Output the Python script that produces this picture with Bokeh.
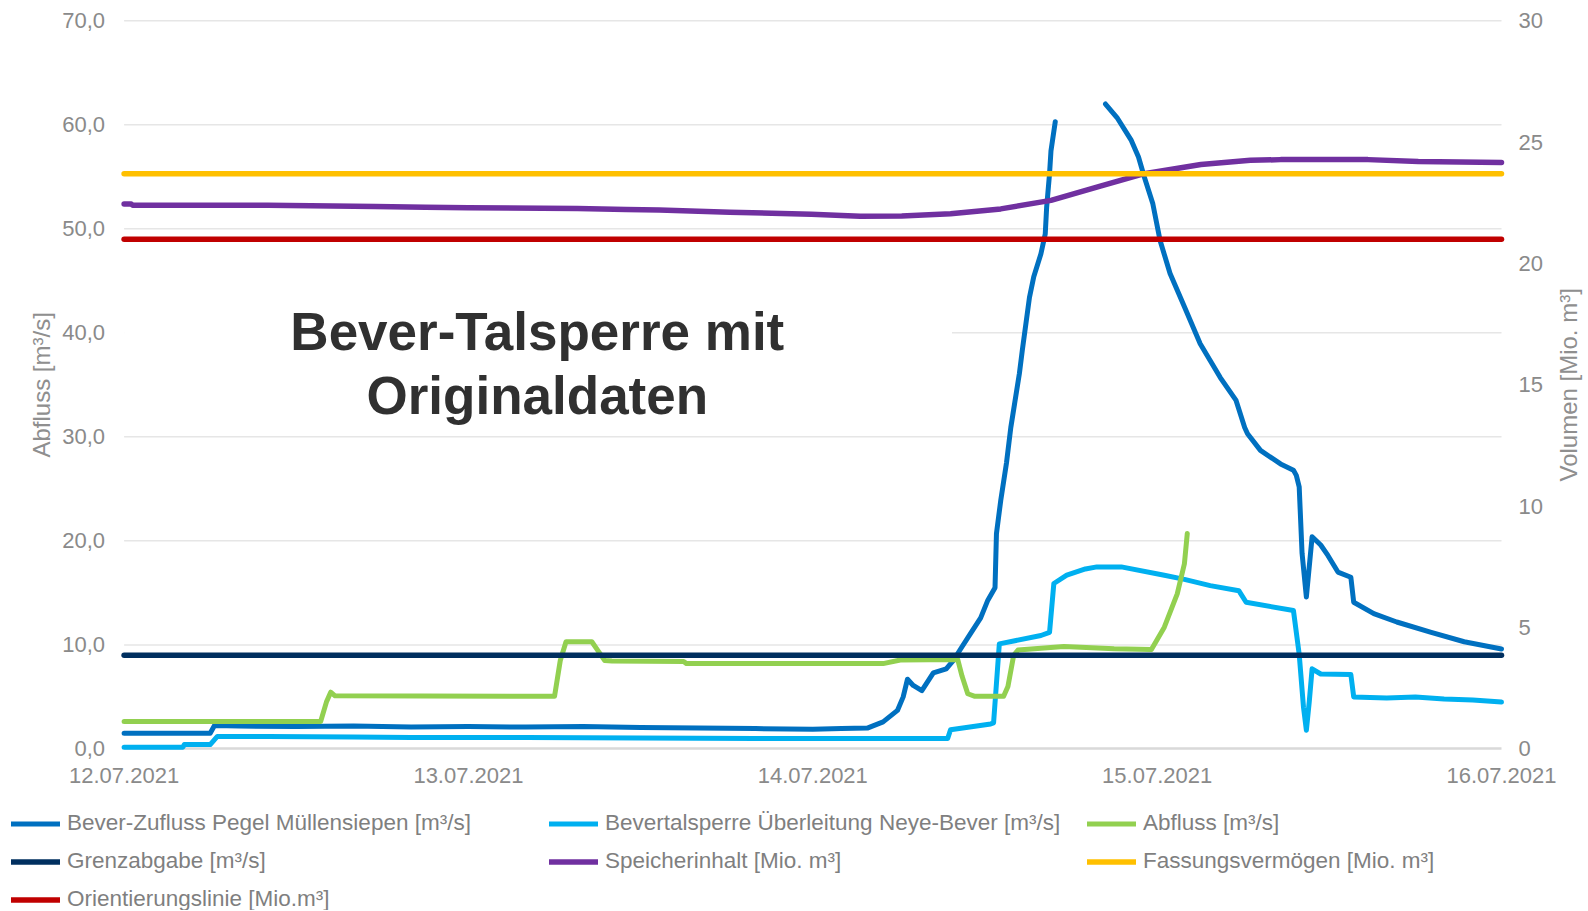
import pandas as pd
from bokeh.plotting import figure
from bokeh.models import (Range1d, LinearAxis, FixedTicker, CustomJSTickFormatter,
                          DatetimeTickFormatter, Legend, LegendItem, BoxAnnotation,
                          Label, ColumnDataSource)
from bokeh.embed import file_html
from bokeh.resources import INLINE

nan = float("nan")

# ---------------- data (hours after 12.07.2021 00:00) ----------------
START = "2021-07-12 00:00"
END = "2021-07-16 00:00"
x_tick_dates = ["2021-07-12", "2021-07-13", "2021-07-14", "2021-07-15", "2021-07-16"]
left_ticks = [0, 10, 20, 30, 40, 50, 60, 70]
right_ticks = [0, 5, 10, 15, 20, 25, 30]

zufluss_h = [0, 6.0, 6.3, 8, 12, 16, 20, 24, 28, 32, 36, 40, 44, 48, 50, 51.8, 52.9, 53.9,
             54.3, 54.6, 55.0, 55.6, 56.4, 57.3, 57.8, 58.3, 59.0, 59.7, 60.2, 60.7, 60.8,
             61.1, 61.5, 61.8, 62.4, 62.6, 63.1, 63.4, 63.9, 64.2, 64.3, 64.5, 64.6, 64.9,
             66.6, 68.4, 69.2, 70.2, 70.7, 71.1, 71.7, 72.2, 72.9, 73.9, 75.0, 76.4, 77.5,
             78.1, 78.3, 79.2, 80.6, 81.5, 81.7, 81.9, 82.1, 82.4, 82.8, 83.4, 83.9, 84.6,
             85.5, 85.7, 87.1, 88.7, 91.1, 93.4, 96.0]
zufluss_v = [1.5, 1.5, 2.25, 2.2, 2.15, 2.2, 2.1, 2.15, 2.1, 2.15, 2.05, 2.0, 1.95, 1.9, 1.95,
             2.0, 2.6, 3.7, 5.0, 6.7, 6.1, 5.6, 7.3, 7.7, 8.5, 9.6, 11.1, 12.6, 14.3, 15.5,
             20.7, 23.9, 27.5, 30.9, 36.1, 38.3, 43.4, 45.4, 47.6, 49.5, 52.1, 55.3, 57.5,
             60.3, nan, 62.0, 60.7, 58.5, 56.9, 55.0, 52.4, 48.9, 45.7, 42.5, 38.95, 35.7,
             33.5, 30.9, 30.3, 28.7, 27.4, 26.8, 26.3, 25.2, 18.8, 14.6, 20.4, 19.6, 18.6,
             17.0, 16.5, 14.1, 13.0, 12.2, 11.2, 10.3, 9.6]

ueberl_h = [0, 4.1, 4.2, 6.0, 6.5, 10, 16, 20, 28, 36, 44, 52, 57.4, 57.6, 60.4, 60.6, 61.0,
            63.9, 64.5, 64.8, 65.7, 67.0, 67.8, 69.5, 72.5, 73.9, 75.7, 77.7, 78.2, 81.5,
            81.9, 82.2, 82.4, 82.6, 82.8, 83.4, 85.5, 85.7, 88, 90, 92, 94, 96]
ueberl_v = [0.17, 0.17, 0.42, 0.42, 1.2, 1.2, 1.15, 1.1, 1.1, 1.05, 1.0, 1.0, 1.0, 1.85, 2.4,
            2.5, 10.1, 10.9, 11.2, 15.9, 16.7, 17.3, 17.5, 17.5, 16.7, 16.3, 15.7, 15.2, 14.1,
            13.3, 9.1, 4.0, 1.8, 4.5, 7.7, 7.2, 7.15, 5.0, 4.9, 5.0, 4.8, 4.7, 4.5]

abfluss_h = [0, 13.7, 14.1, 14.4, 14.7, 30.0, 30.4, 30.8, 32.6, 33.0, 33.5, 34, 39, 39.2,
             52.9, 54.1, 58.1, 58.4, 58.8, 59.3, 61.3, 61.6, 62.0, 62.3, 65.5, 69.0, 71.6,
             72.5, 73.4, 73.9, 74.1]
abfluss_v = [2.63, 2.63, 4.5, 5.45, 5.1, 5.05, 8.5, 10.3, 10.3, 9.5, 8.5, 8.45, 8.4, 8.2,
             8.2, 8.55, 8.6, 7.0, 5.3, 5.05, 5.05, 6.0, 9.0, 9.5, 9.85, 9.62, 9.55, 11.7,
             14.9, 17.8, 20.7]

speicher_h = [0, 0.5, 0.6, 10, 17.5, 21, 24, 31.6, 35, 37.3, 42.2, 47.9, 51.3, 54.2, 57.6,
              61.1, 64.6, 68.1, 71.1, 75.05, 78.5, 80.6, 86.7, 90.2, 96]
speicher_v = [22.45, 22.45, 22.4, 22.4, 22.35, 22.32, 22.3, 22.27, 22.22, 22.2, 22.11, 22.03,
              21.95, 21.96, 22.05, 22.25, 22.6, 23.2, 23.7, 24.08, 24.25, 24.28, 24.28, 24.2,
              24.16]

grenzabgabe = 9.0          # m³/s
fassungsvermoegen = 23.7   # Mio. m³
orientierungslinie = 21.0  # Mio. m³

labels = {
    "zufluss": "Bever-Zufluss Pegel Müllensiepen [m³/s]",
    "ueberl": "Bevertalsperre Überleitung Neye-Bever [m³/s]",
    "abfluss": "Abfluss [m³/s]",
    "grenz": "Grenzabgabe [m³/s]",
    "speicher": "Speicherinhalt [Mio. m³]",
    "fassung": "Fassungsvermögen [Mio. m³]",
    "orient": "Orientierungslinie [Mio.m³]",
}
colors = {
    "zufluss": "#0070C0", "ueberl": "#00B0F0", "abfluss": "#92D050", "grenz": "#002F5F",
    "speicher": "#7030A0", "fassung": "#FFC000", "orient": "#C00000",
}
legend_order = ["zufluss", "ueberl", "abfluss", "grenz", "speicher", "fassung", "orient"]
title_left = "Abfluss [m³/s]"
title_right = "Volumen [Mio. m³]"
chart_title = ["Bever-Talsperre mit", "Originaldaten"]

# ---------------- layout (pixels) ----------------
W, H = 1586, 910
PLOT_L, PLOT_R, PLOT_T, PLOT_B = 123.6, 1501.0, 20.3, 748.4
LEFT_MAX, RIGHT_MAX = 70.0, 30.0

t0 = pd.Timestamp(START)
t1 = pd.Timestamp(END)
px_per_hour = (PLOT_R - PLOT_L) / ((t1 - t0) / pd.Timedelta(hours=1))
px_per_unit = (PLOT_B - PLOT_T) / LEFT_MAX


def to_dt(hours):
    return t0 + pd.to_timedelta(hours, unit="h")


def ms(ts):
    return pd.Timestamp(ts).value / 1e6


def px_to_hour(px):
    return (px - PLOT_L) / px_per_hour


x_start = ms(to_dt(px_to_hour(0)))
x_end = ms(to_dt(px_to_hour(W)))
y_top = LEFT_MAX + PLOT_T / px_per_unit
y_bot = -(H - PLOT_B) / px_per_unit
k = RIGHT_MAX / LEFT_MAX

FONT = "Liberation Sans"
TICK_COLOR = "#8a8a8a"
TITLE_GREY = "#8f8f8f"

p = figure(width=W, height=H, x_axis_type="datetime",
           x_range=Range1d(x_start, x_end), y_range=Range1d(y_bot, y_top),
           output_backend="svg", toolbar_location=None, title=None,
           min_border_left=0, min_border_right=0, min_border_top=0, min_border_bottom=0)
p.extra_y_ranges = {"vol": Range1d(y_bot * k, y_top * k)}
p.outline_line_color = None
p.background_fill_color = "white"
p.border_fill_color = "white"
p.xgrid.visible = False
p.ygrid.visible = False

# horizontal grid lines spanning the date range
p.multi_line(xs=[[ms(t0), ms(t1)] for _ in left_ticks[1:]],
             ys=[[t, t] for t in left_ticks[1:]], line_color="#e6e6e6", line_width=1.5)

# x axis, fixed at y = 0
xa = p.xaxis[0]
xa.fixed_location = 0
xa.bounds = (ms(t0), ms(t1))
xa.ticker = FixedTicker(ticks=[ms(d) for d in x_tick_dates])
fmt = "%d.%m.%Y"
xa.formatter = DatetimeTickFormatter(microseconds=fmt, milliseconds=fmt, seconds=fmt,
                                     minsec=fmt, minutes=fmt, hourmin=fmt, hours=fmt,
                                     days=fmt, months=fmt, years=fmt)
xa.axis_line_color = "#d9d9d9"
xa.axis_line_width = 2.5
xa.major_tick_line_color = None
xa.minor_tick_line_color = None
xa.major_tick_out = 0
xa.major_tick_in = 0
xa.major_label_text_font = FONT
xa.major_label_text_font_size = "22px"
xa.major_label_text_color = TICK_COLOR
xa.major_label_standoff = 19
xa.level = "underlay"

# left axis, fixed at the first date
ya = p.yaxis[0]
ya.fixed_location = ms(t0)
ya.bounds = (0, LEFT_MAX)
ya.ticker = FixedTicker(ticks=left_ticks)
ya.formatter = CustomJSTickFormatter(code="return tick.toFixed(1).replace('.', ',');")
ya.axis_line_color = None
ya.major_tick_line_color = None
ya.minor_tick_line_color = None
ya.major_tick_out = 0
ya.major_tick_in = 0
ya.major_label_text_font = FONT
ya.major_label_text_font_size = "22px"
ya.major_label_text_color = TICK_COLOR
ya.major_label_standoff = 19

# right axis, fixed at the last date
ra = LinearAxis(y_range_name="vol", ticker=FixedTicker(ticks=right_ticks),
                fixed_location=ms(t1), bounds=(0, RIGHT_MAX))
ra.axis_line_color = None
ra.major_tick_line_color = None
ra.minor_tick_line_color = None
ra.major_tick_out = 0
ra.major_tick_in = 0
ra.major_label_text_font = FONT
ra.major_label_text_font_size = "22px"
ra.major_label_text_color = TICK_COLOR
ra.major_label_standoff = 17
p.add_layout(ra, "right")

# ---------------- series ----------------
renderers = {}


def add_line(key, hours, vals, width, y_range_name="default"):
    src = ColumnDataSource(dict(x=to_dt(hours), y=vals))
    r = p.line("x", "y", source=src, line_color=colors[key], line_width=width,
               line_cap="round", line_join="round", y_range_name=y_range_name)
    renderers[key] = r


add_line("zufluss", zufluss_h, zufluss_v, 5)
add_line("ueberl", ueberl_h, ueberl_v, 5)
add_line("abfluss", abfluss_h, abfluss_v, 5)
add_line("grenz", [0, 96], [grenzabgabe, grenzabgabe], 5.5)
add_line("speicher", speicher_h, speicher_v, 5.5, "vol")
add_line("fassung", [0, 96], [fassungsvermoegen, fassungsvermoegen], 5.5, "vol")
add_line("orient", [0, 96], [orientierungslinie, orientierungslinie], 5.5, "vol")

# ---------------- axis titles ----------------
y_mid = LEFT_MAX / 2
p.add_layout(Label(x=ms(to_dt(px_to_hour(40.5))), y=y_mid, text=title_left, angle=90,
                   angle_units="deg", text_align="center", text_baseline="middle",
                   text_font=FONT, text_font_size="24px", text_color=TITLE_GREY))
p.add_layout(Label(x=ms(to_dt(px_to_hour(1568))), y=y_mid, text=title_right, angle=90,
                   angle_units="deg", text_align="center", text_baseline="middle",
                   text_font=FONT, text_font_size="24px", text_color=TITLE_GREY))

# ---------------- title box ----------------
box = BoxAnnotation(left=ms(t0), right=ms(to_dt(57.7)), top=44, bottom=32,
                    fill_color="white", fill_alpha=1.0, line_alpha=0)
p.add_layout(box)
for txt, yv in zip(chart_title, [40.1, 34.0]):
    p.add_layout(Label(x=ms(to_dt(28.8)), y=yv, text=txt, text_align="center",
                       text_baseline="middle", text_font=FONT, text_font_size="53px",
                       text_font_style="bold", text_color="#303030"))

# ---------------- legend (3 columns under the chart) ----------------
items = [LegendItem(label=labels[k2], renderers=[renderers[k2]]) for k2 in legend_order]
lg = Legend(items=items, location=(11, -2), orientation="horizontal", ncols=3,
            padding=0, margin=0, spacing=12, glyph_width=49, glyph_height=25,
            label_height=25, label_width=470, label_standoff=7, label_text_font=FONT,
            label_text_font_size="22.5px", label_text_color="#7f7f7f",
            border_line_color=None, background_fill_alpha=0)
p.add_layout(lg, "center")

open("out.html", "w").write(file_html(p, INLINE))
